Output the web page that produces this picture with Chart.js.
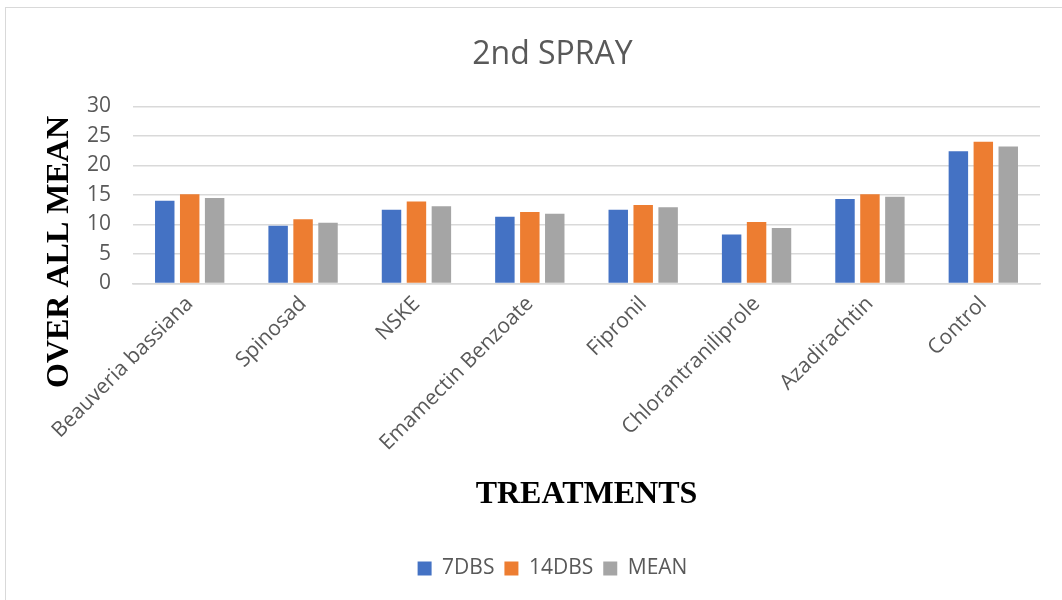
<!DOCTYPE html>
<html>
<head>
<meta charset="utf-8">
<script src="https://cdn.jsdelivr.net/npm/chart.js@4/dist/chart.umd.min.js"></script>
<style>
  html, body { margin: 0; padding: 0; background: #ffffff; }
  #wrap { position: relative; width: 1062px; height: 600px; overflow: hidden; }
  #frame { position: absolute; left: 5px; top: 7px; width: 1100px; height: 640px; border: 1.5px solid #d9d9d9; pointer-events: none; }
  canvas { position: absolute; left: 0; top: 0; }
</style>
</head>
<body>
<div id="wrap">
  <canvas id="c" width="1062" height="600"></canvas>
  <div id="frame"></div>
</div>
<script>
const chartTitle = "2nd SPRAY";
const yAxisTitle = "OVER ALL MEAN";
const xAxisTitle = "TREATMENTS";
const categories = ["Beauveria bassiana", "Spinosad", "NSKE", "Emamectin Benzoate", "Fipronil", "Chlorantraniliprole", "Azadirachtin", "Control"];
const seriesNames = ["7DBS", "14DBS", "MEAN"];
const dbs7 = [14.0, 9.8, 12.5, 11.3, 12.5, 8.3, 14.3, 22.4];
const dbs14 = [15.1, 10.9, 13.9, 12.1, 13.3, 10.4, 15.1, 24.0];
const meanVals = [14.5, 10.3, 13.1, 11.8, 12.9, 9.4, 14.7, 23.2];
const yTicks = [0, 5, 10, 15, 20, 25, 30];
const colors = ["#4472c4", "#ed7d31", "#a5a5a5"];

const yTitlePlugin = {
  id: 'yTitlePlugin',
  afterDraw(chart) {
    const ctx = chart.ctx;
    ctx.save();
    ctx.font = 'bold 32px "Liberation Serif", "Times New Roman", serif';
    ctx.fillStyle = '#000000';
    ctx.textAlign = 'center';
    ctx.textBaseline = 'middle';
    ctx.translate(60, 252);
    ctx.rotate(-Math.PI / 2);
    ctx.fillText(yAxisTitle, 0, 0);
    ctx.restore();
  }
};

const seriesData = [dbs7, dbs14, meanVals];
new Chart(document.getElementById('c'), {
  type: 'bar',
  data: {
    labels: categories,
    datasets: seriesNames.map((n, i) => ({
      label: n,
      data: seriesData[i],
      backgroundColor: colors[i],
      borderWidth: 0,
      barPercentage: 0.78,
      categoryPercentage: 0.66
    }))
  },
  options: {
    responsive: false,
    animation: false,
    layout: { padding: { left: 65, right: 22, top: 0, bottom: 11 } },
    plugins: {
      title: {
        display: true,
        text: chartTitle,
        color: '#595959',
        font: { family: '"Open Sans", sans-serif', size: 32, weight: 'normal' },
        padding: { top: 36, bottom: 32 }
      },
      legend: {
        position: 'bottom',
        labels: {
          color: '#595959',
          font: { family: '"Open Sans", sans-serif', size: 21 },
          boxWidth: 14,
          boxHeight: 14,
          padding: 10
        }
      },
      tooltip: { enabled: false }
    },
    scales: {
      x: {
        grid: { display: false, drawTicks: false },
        border: { display: true, color: '#d9d9d9', width: 1.5 },
        ticks: {
          color: '#595959',
          font: { family: '"Open Sans", sans-serif', size: 21 },
          maxRotation: 45,
          minRotation: 45,
          padding: 8
        },
        title: {
          display: true,
          text: xAxisTitle,
          color: '#000000',
          font: { family: '"Liberation Serif", "Times New Roman", serif', size: 32, weight: 'bold' },
          padding: { top: 12, bottom: 34 }
        }
      },
      y: {
        min: 0,
        max: 30,
        afterBuildTicks(axis) { axis.ticks = yTicks.map(v => ({ value: v })); },
        grid: { color: '#d9d9d9', lineWidth: 1.5, drawTicks: false },
        border: { display: false },
        ticks: {
          color: '#595959',
          font: { family: '"Open Sans", sans-serif', size: 21 },
          padding: 22
        }
      }
    }
  },
  plugins: [yTitlePlugin]
});
</script>
</body>
</html>
